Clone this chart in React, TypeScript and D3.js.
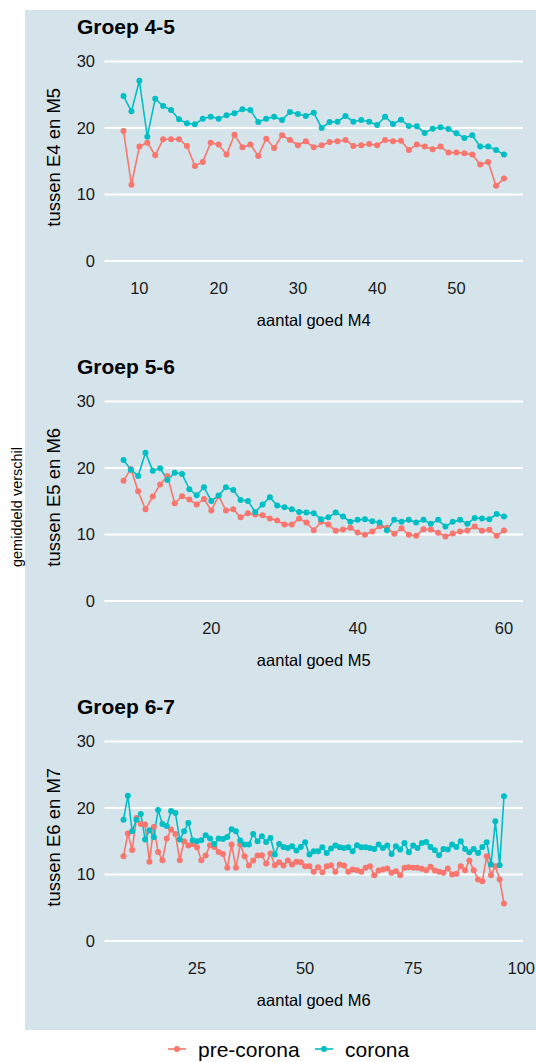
import React from 'react';
import * as d3 from 'd3';

// ---------- data ----------
const Y_TICKS = [0, 10, 20, 30];
const Y_LIMITS: [number, number] = [0, 30];

const P1_X_START = 8;
const P1_TICKS = [10, 20, 30, 40, 50];
const P1_PRE = [19.55, 11.45, 17.2, 17.8, 15.9, 18.3, 18.3, 18.3, 17.3, 14.3, 14.9, 17.8, 17.5, 16.0, 19.0, 17.1, 17.5, 15.8, 18.4, 17.0, 18.9, 18.2, 17.4,
  18.0, 17.1, 17.4, 17.9, 18.0, 18.2, 17.3, 17.4, 17.6, 17.4, 18.2, 18.0, 18.1, 16.7, 17.5, 17.2, 16.8, 17.2, 16.3, 16.3, 16.2, 16.0, 14.5, 14.9, 11.3, 12.4];
const P1_COR = [24.8, 22.5, 27.1, 18.7, 24.4, 23.3, 22.7, 21.3, 20.7, 20.55, 21.4, 21.7, 21.4, 21.9, 22.2, 22.8, 22.7, 20.9, 21.4, 21.7, 21.2, 22.4, 22.1,
  21.8, 22.3, 20.0, 20.9, 20.95, 21.8, 20.95, 21.2, 20.95, 20.45, 21.7, 20.6, 21.25, 20.3, 20.25, 19.25, 19.9, 20.1, 19.85, 19.2, 18.5, 18.9, 17.2, 17.2, 16.7, 16.0];

const P2_X_START = 8;
const P2_TICKS = [20, 40, 60];
const P2_PRE = [18.1, 19.85, 16.5, 13.8, 15.7, 17.5, 18.8, 14.7, 15.75, 15.25, 14.5, 15.35, 13.6, 15.8, 13.6, 13.8, 12.6, 13.2, 13.0, 12.9, 12.4, 12.1, 11.5,
  11.5, 12.4, 11.8, 10.65, 11.9, 11.5, 10.55, 10.75, 11.0, 10.3, 9.95, 10.45, 11.25, 11.0, 10.1, 10.95, 9.95, 9.8, 10.8, 10.75, 10.25, 9.7, 10.15, 10.45, 10.6,
  11.2, 10.55, 10.7, 9.8, 10.6];
const P2_COR = [21.2, 19.75, 18.8, 22.3, 19.6, 19.95, 18.2, 19.3, 19.1, 16.8, 15.9, 17.1, 15.05, 15.85, 17.1, 16.7, 15.2, 15.05, 13.4, 14.5, 15.6, 14.35, 14.1,
  13.8, 13.4, 13.3, 13.2, 12.3, 12.6, 13.3, 12.7, 11.9, 12.2, 12.3, 12.0, 11.8, 10.65, 12.2, 11.9, 12.2, 11.8, 12.2, 11.6, 12.2, 11.2, 11.9, 12.2, 11.6,
  12.5, 12.4, 12.3, 13.1, 12.7];

const P3_X_START = 8;
const P3_TICKS = [25, 50, 75, 100];
const P3_PRE = [12.75, 16.15, 13.7, 18.5, 17.6, 17.5, 11.9, 17.15, 13.4, 12.15, 15.4, 16.75, 16.1, 12.15, 15.0, 14.35, 14.6, 14.1, 12.15, 12.85, 14.4, 14.15,
  13.4, 13.1, 11.0, 14.5, 11.0, 14.5, 12.75, 11.35, 12.1, 12.85, 12.9, 11.65, 13.15, 11.4, 11.85, 11.35, 12.1, 11.5, 11.9, 11.85, 11.25, 11.25, 10.4, 11.1,
  10.35, 11.25, 11.4, 10.4, 11.5, 11.35, 10.4, 10.75, 10.65, 10.4, 11.0, 11.25, 9.9, 10.6, 10.75, 10.9, 10.25, 10.5, 9.9, 11.0, 11.1, 11.0, 11.0, 10.85,
  10.65, 11.15, 10.6, 10.4, 10.25, 10.9, 10.0, 10.1, 11.25, 10.65, 12.1, 10.65, 9.25, 9.0, 12.75, 9.9, 11.25, 9.25, 5.65];
const P3_COR = [18.25, 21.85, 16.5, 18.25, 19.1, 15.25, 16.65, 15.6, 19.7, 17.6, 17.3, 19.55, 19.25, 15.25, 16.5, 17.75, 15.15, 15.0, 15.15, 15.9, 15.4, 14.6,
  15.4, 15.35, 15.65, 16.8, 16.5, 15.1, 14.5, 14.5, 16.1, 15.0, 15.75, 14.9, 15.5, 13.0, 14.6, 14.15, 14.0, 14.25, 13.6, 14.15, 14.85, 13.0, 13.5, 13.5,
  14.1, 13.25, 13.9, 14.35, 14.1, 14.0, 14.1, 13.5, 14.4, 14.1, 14.1, 14.0, 13.85, 14.5, 14.0, 14.35, 13.1, 14.25, 13.75, 14.75, 13.35, 14.35, 14.0, 14.75,
  14.9, 14.15, 13.65, 12.9, 13.85, 13.75, 14.5, 14.15, 15.0, 13.85, 13.35, 13.85, 13.25, 14.15, 14.85, 11.5, 18.0, 11.4, 21.75];

const TITLES = ['Groep 4-5', 'Groep 5-6', 'Groep 6-7'];
const Y_TITLES = ['tussen E4 en M5', 'tussen E5 en M6', 'tussen E6 en M7'];
const X_TITLES = ['aantal goed M4', 'aantal goed M5', 'aantal goed M6'];
const SERIES_NAMES = ['pre-corona', 'corona'];

// ---------- styling ----------
const W = 536;
const H = 1062;
const BG = '#d5e4eb';
const COL_PRE = '#F8766D';
const COL_COR = '#00BFC4';
const FONT = '"Liberation Sans", Arial, Helvetica, sans-serif';
const STEP = 340;

const PANELS = [
  { title: TITLES[0], yTitle: Y_TITLES[0], xTitle: X_TITLES[0], xStart: P1_X_START, ticks: P1_TICKS, pre: P1_PRE, cor: P1_COR },
  { title: TITLES[1], yTitle: Y_TITLES[1], xTitle: X_TITLES[1], xStart: P2_X_START, ticks: P2_TICKS, pre: P2_PRE, cor: P2_COR },
  { title: TITLES[2], yTitle: Y_TITLES[2], xTitle: X_TITLES[2], xStart: P3_X_START, ticks: P3_TICKS, pre: P3_PRE, cor: P3_COR },
];

function Panel({ cfg, index }: { cfg: typeof PANELS[number]; index: number }) {
  const off = index * STEP;
  const left = 104.5;
  const right = 523;
  const top = 51.5 + off;
  const bottom = 271 + off;

  const xs = cfg.pre.map((_, i) => cfg.xStart + i);
  const [x0, x1] = d3.extent(xs) as [number, number];
  const xpad = (x1 - x0) * 0.05;
  const x = d3.scaleLinear().domain([x0 - xpad, x1 + xpad]).range([left, right]);
  const ypad = (Y_LIMITS[1] - Y_LIMITS[0]) * 0.05;
  const y = d3.scaleLinear().domain([Y_LIMITS[0] - ypad, Y_LIMITS[1] + ypad]).range([bottom, top]);

  const line = d3.line<number>().x((_, i) => x(cfg.xStart + i)).y((d) => y(d));

  const series = [
    { vals: cfg.pre, col: COL_PRE },
    { vals: cfg.cor, col: COL_COR },
  ];

  return (
    <g>
      <text x={77} y={34 + off} fontFamily={FONT} fontWeight="bold" fontSize={21} fill="#000">{cfg.title}</text>
      {Y_TICKS.map((t) => (
        <g key={t}>
          <line x1={left} x2={right} y1={y(t)} y2={y(t)} stroke="#fff" strokeWidth={2.2} />
          <text x={95} y={y(t)} dy="0.36em" textAnchor="end" fontFamily={FONT} fontSize={16.5} fill="#1a1a1a">{t}</text>
        </g>
      ))}
      {cfg.ticks.map((t) => (
        <text key={t} x={x(t)} y={bottom + 23} textAnchor="middle" fontFamily={FONT} fontSize={16.5} fill="#1a1a1a">{t}</text>
      ))}
      <text x={(left + right) / 2} y={bottom + 55} textAnchor="middle" fontFamily={FONT} fontSize={16.5} fill="#000">{cfg.xTitle}</text>
      <text transform={`translate(${59.5},${(top + bottom) / 2 - 4}) rotate(-90)`} textAnchor="middle" fontFamily={FONT} fontSize={18.5} fill="#000">{cfg.yTitle}</text>
      {series.map((s, k) => (
        <path key={k} d={line(s.vals) || ''} fill="none" stroke={s.col} strokeWidth={1.6} />
      ))}
      {series.map((s, k) => (
        <g key={k}>
          {s.vals.map((v, i) => (
            <circle key={i} cx={x(cfg.xStart + i)} cy={y(v)} r={3} fill={s.col} />
          ))}
        </g>
      ))}
    </g>
  );
}

export default function App() {
  const legendY = 1049;
  const legendItems = [
    { name: SERIES_NAMES[0], col: COL_PRE, x: 168 },
    { name: SERIES_NAMES[1], col: COL_COR, x: 315 },
  ];
  return (
    <svg width={W} height={H} style={{ position: 'absolute', left: 0, top: 0 }} xmlns="http://www.w3.org/2000/svg">
      <rect x={0} y={0} width={W} height={H} fill="#fff" />
      <rect x={25} y={10} width={W - 25} height={1020} fill={BG} />
      <text transform={`translate(${22},${507}) rotate(-90)`} textAnchor="middle" fontFamily={FONT} fontSize={14.5} fill="#000">gemiddeld verschil</text>
      {PANELS.map((p, i) => (
        <Panel key={i} cfg={p} index={i} />
      ))}
      {legendItems.map((it) => (
        <g key={it.name}>
          <line x1={it.x} x2={it.x + 18} y1={legendY} y2={legendY} stroke={it.col} strokeWidth={1.6} />
          <circle cx={it.x + 9} cy={legendY} r={3} fill={it.col} />
          <text x={it.x + 30} y={legendY + 7.5} fontFamily={FONT} fontSize={21} fill="#000">{it.name}</text>
        </g>
      ))}
    </svg>
  );
}
